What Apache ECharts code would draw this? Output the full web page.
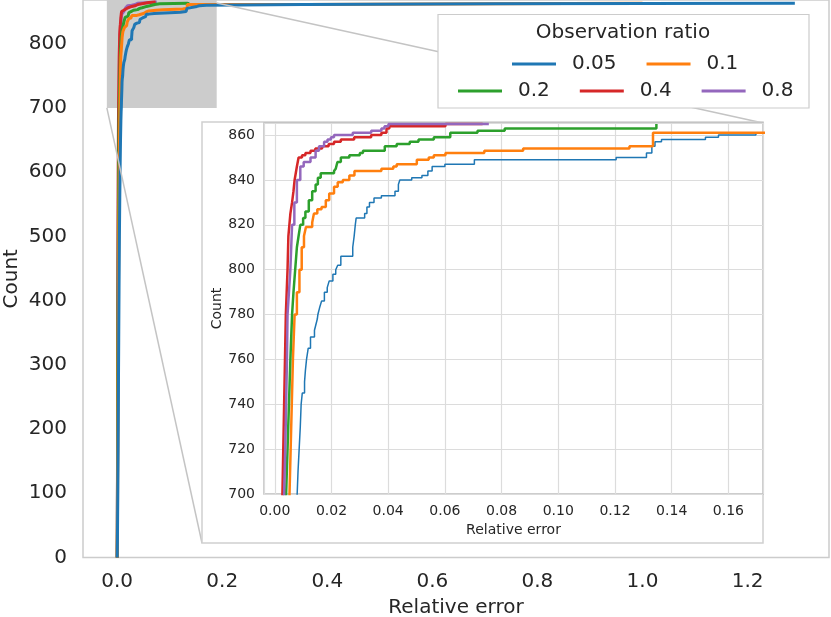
<!DOCTYPE html>
<html>
<head>
<meta charset="utf-8">
<script src="https://cdn.jsdelivr.net/npm/echarts@6/dist/echarts.min.js"></script>
<style>
  html, body { margin: 0; padding: 0; background: #fff; }
  #chart { width: 831px; height: 617px; }
</style>
</head>
<body>
<div id="chart"></div>
<script>
// observation ratios (legend) and their colours
const ratios = ['0.05', '0.1', '0.2', '0.4', '0.8'];
const colors = ['#1f77b4', '#ff7f0e', '#2ca02c', '#d62728', '#9467bd'];

// cumulative count curves: [relative error, count] at each step
const curve005 = [
  [0.0001, 0], [0.0006, 30], [0.0012, 100], [0.0018, 180], [0.0024, 260], [0.0030, 340],
  [0.0036, 420], [0.0043, 500], [0.0050, 560], [0.0057, 610], [0.0064, 650], [0.0071, 680],
  [0.0076, 695], [0.0079, 700], [0.0082, 710], [0.0086, 720], [0.0090, 730], [0.0093, 740],
  [0.0097, 745], [0.0105, 750], [0.0108, 755], [0.0112, 760], [0.0118, 765], [0.0126, 770],
  [0.0140, 773], [0.0146, 776], [0.0150, 778], [0.0152, 780], [0.0158, 783], [0.0165, 786],
  [0.0175, 790], [0.0185, 792], [0.0192, 795], [0.0205, 798], [0.0215, 800], [0.0222, 802],
  [0.0233, 806], [0.0275, 810], [0.0280, 815], [0.0284, 820], [0.0287, 823], [0.0317, 825],
  [0.0325, 828], [0.0334, 830], [0.0350, 832], [0.0376, 833], [0.0424, 835], [0.0436, 838],
  [0.0441, 840], [0.0483, 841], [0.0519, 842], [0.0540, 844], [0.0555, 846], [0.0600, 847],
  [0.0704, 849], [0.1204, 850], [0.1311, 852], [0.1330, 855], [0.1341, 857], [0.1364, 858],
  [0.1519, 859], [0.1565, 860], [0.1697, 861], [0.354, 862], [0.72, 863], [1.29, 864]
];
const curve01 = [
  [0.0001, 0], [0.0005, 40], [0.0010, 130], [0.0015, 230], [0.0020, 330], [0.0026, 430],
  [0.0032, 520], [0.0038, 590], [0.0044, 640], [0.0049, 680], [0.0052, 700], [0.0056, 720],
  [0.0060, 740], [0.0064, 760], [0.0070, 780], [0.0078, 790], [0.0087, 800], [0.0095, 810],
  [0.0103, 815], [0.0110, 819], [0.0132, 821], [0.0138, 825], [0.0150, 827], [0.0165, 828],
  [0.0180, 831], [0.0192, 834], [0.0209, 837], [0.0222, 839], [0.0240, 840], [0.0263, 842],
  [0.0281, 844], [0.0376, 845], [0.0418, 846], [0.0430, 847], [0.0501, 849], [0.0543, 850],
  [0.0561, 851], [0.0602, 852], [0.0739, 853], [0.0876, 854], [0.1251, 855], [0.1334, 861],
  [0.36, 862], [0.72, 863], [1.0, 863]
];
const curve02 = [
  [0.0001, 0], [0.0004, 50], [0.0008, 150], [0.0012, 260], [0.0016, 360], [0.0020, 460],
  [0.0025, 550], [0.0030, 620], [0.0035, 670], [0.0040, 700], [0.0045, 720], [0.0050, 740],
  [0.0055, 760], [0.0061, 780], [0.0066, 790], [0.0072, 800], [0.0078, 810], [0.0084, 815],
  [0.0090, 820], [0.0100, 823], [0.0108, 826], [0.0120, 831], [0.0132, 835], [0.0144, 838],
  [0.0152, 841], [0.0162, 843], [0.0209, 844], [0.0215, 845], [0.0221, 848], [0.0233, 850],
  [0.0263, 851], [0.0300, 852], [0.0311, 853], [0.0388, 855], [0.0430, 856], [0.0476, 857],
  [0.0507, 858], [0.0561, 859], [0.0619, 861], [0.0715, 862], [0.0811, 863], [0.1346, 865]
];
const curve04 = [
  [0.0001, 0], [0.0004, 60], [0.0007, 150], [0.0010, 260], [0.0013, 370], [0.0016, 470],
  [0.0019, 560], [0.0022, 630], [0.0025, 680], [0.0027, 700], [0.0030, 720], [0.0033, 740],
  [0.0036, 760], [0.0039, 780], [0.0042, 790], [0.0045, 800], [0.0048, 815], [0.0055, 825],
  [0.0061, 830], [0.0066, 835], [0.0070, 840], [0.0074, 843], [0.0078, 846], [0.0084, 850],
  [0.0096, 851], [0.0108, 852], [0.0126, 853], [0.0143, 854], [0.0167, 855], [0.0190, 856],
  [0.0209, 857], [0.0233, 858], [0.0280, 859], [0.0340, 860], [0.0376, 861], [0.0394, 863],
  [0.0404, 864], [0.0602, 865], [0.0733, 865]
];
const curve08 = [
  [0.0001, 0], [0.0004, 55], [0.0008, 150], [0.0011, 250], [0.0015, 360], [0.0018, 460],
  [0.0022, 550], [0.0025, 620], [0.0029, 670], [0.0033, 700], [0.0037, 720], [0.0040, 740],
  [0.0043, 760], [0.0045, 780], [0.0050, 790], [0.0055, 800], [0.0058, 810], [0.0061, 820],
  [0.0069, 830], [0.0078, 840], [0.0090, 846], [0.0102, 848], [0.0126, 850], [0.0144, 853],
  [0.0156, 855], [0.0174, 857], [0.0186, 858], [0.0198, 859], [0.0209, 860], [0.0275, 861],
  [0.0340, 862], [0.0376, 863], [0.0387, 864], [0.0401, 865], [0.0755, 865]
];
const curves = [curve005, curve01, curve02, curve04, curve08];

// zoomed region shaded on the main axes
const zoomX = [-0.0196, 0.1895];
const zoomY = [700, 868];

const font = 'DejaVu Sans';
const ink = '#262626';

const chart = echarts.init(document.getElementById('chart'));

let series = [];
// main axes (blue drawn last so it sits on top)
[4, 3, 2, 1, 0].forEach(i => {
  series.push({
    name: ratios[i], type: 'line', xAxisIndex: 0, yAxisIndex: 0,
    data: curves[i], step: 'end', symbol: 'none', showSymbol: false,
    lineStyle: { width: 3, color: colors[i] }, itemStyle: { color: colors[i] },
    z: 2, animation: false
  });
});
series[0].markArea = {
  silent: true,
  itemStyle: { color: '#cccccc', opacity: 1 },
  data: [[{ coord: [zoomX[0], zoomY[0]] }, { coord: [zoomX[1], zoomY[1]] }]]
};
// inset axes
[0, 1, 2, 3, 4].forEach(i => {
  series.push({
    name: ratios[i], type: 'line', xAxisIndex: 1, yAxisIndex: 1,
    data: curves[i], step: 'end', symbol: 'none', showSymbol: false,
    lineStyle: { width: i === 0 ? 1.5 : 2.5, color: colors[i] }, itemStyle: { color: colors[i] },
    z: 7, animation: false
  });
});

const legendCommon = {
  orient: 'horizontal', icon: 'rect', itemWidth: 44, itemHeight: 3, itemGap: 30,
  padding: 0, selectedMode: false, z: 10,
  textStyle: { fontFamily: font, fontSize: 20, color: ink, padding: [0, 0, 0, 11] }
};

const option = {
  backgroundColor: '#fff',
  animation: false,
  grid: [
    { left: 83, right: 2, top: 0, bottom: 59.5, show: true, borderColor: '#cccccc', borderWidth: 1.5,
      z: 0, containLabel: false, outerBoundsMode: 'none' },
    { left: 264, top: 123, width: 499, height: 371, show: true, backgroundColor: '#fff',
      borderColor: '#bdbdbd', borderWidth: 1.5, z: 5, containLabel: false, outerBoundsMode: 'none' }
  ],
  xAxis: [
    { type: 'value', gridIndex: 0, min: -0.065, max: 1.355, splitNumber: 7,
      name: 'Relative error', nameLocation: 'middle', nameGap: 40, nameMoveOverlap: false,
      nameTextStyle: { fontFamily: font, fontSize: 20, color: ink },
      axisLine: { show: false }, axisTick: { show: false }, splitLine: { show: false },
      axisLabel: { fontFamily: font, fontSize: 20, color: ink, margin: 14,
        showMinLabel: false, showMaxLabel: false, formatter: v => v.toFixed(1) } },
    { type: 'value', gridIndex: 1, min: -0.0038, max: 0.1722, splitNumber: 9,
      name: 'Relative error', nameLocation: 'middle', nameGap: 29, nameMoveOverlap: false, z: 6,
      nameTextStyle: { fontFamily: font, fontSize: 14, color: ink },
      axisLine: { show: false }, axisTick: { show: false },
      splitLine: { show: true, lineStyle: { color: '#dcdcdc', width: 1.2 } },
      axisLabel: { fontFamily: font, fontSize: 14, color: ink, margin: 10,
        showMinLabel: false, showMaxLabel: false, formatter: v => v.toFixed(2) } }
  ],
  yAxis: [
    { type: 'value', gridIndex: 0, min: 0, max: 868, interval: 100,
      name: 'Count', nameLocation: 'middle', nameGap: 61, nameMoveOverlap: false,
      nameTextStyle: { fontFamily: font, fontSize: 20, color: ink },
      axisLine: { show: false }, axisTick: { show: false }, splitLine: { show: false },
      axisLabel: { fontFamily: font, fontSize: 20, color: ink, margin: 16, showMaxLabel: false } },
    { type: 'value', gridIndex: 1, min: 700, max: 865.4, interval: 20,
      name: 'Count', nameLocation: 'middle', nameGap: 40, nameMoveOverlap: false, z: 6,
      nameTextStyle: { fontFamily: font, fontSize: 14, color: ink },
      axisLine: { show: false }, axisTick: { show: false },
      splitLine: { show: true, lineStyle: { color: '#dcdcdc', width: 1.2 } },
      axisLabel: { fontFamily: font, fontSize: 14, color: ink, margin: 9, showMaxLabel: false } }
  ],
  legend: [
    Object.assign({}, legendCommon, { data: ['0.05', '0.1'], left: 512, top: 54 }),
    Object.assign({}, legendCommon, { data: ['0.2', '0.4', '0.8'], left: 458, top: 81 })
  ],
  series: series
};
chart.setOption(option);

// shaded region corners in pixels, used for the connector lines
const zBL = chart.convertToPixel({ gridIndex: 0 }, [zoomX[0], zoomY[0]]);
const zTR = chart.convertToPixel({ gridIndex: 0 }, [zoomX[1], zoomY[1]]);

chart.setOption({
  graphic: [
    { type: 'line', z: 3, silent: true,
      shape: { x1: zBL[0], y1: zBL[1], x2: 202, y2: 543 },
      style: { stroke: '#c4c4c4', lineWidth: 1.5 } },
    { type: 'line', z: 3, silent: true,
      shape: { x1: zTR[0], y1: zTR[1] + 3, x2: 763, y2: 123 },
      style: { stroke: '#c4c4c4', lineWidth: 1.5 } },
    { type: 'rect', z: 4, silent: true,
      shape: { x: 202, y: 122, width: 561, height: 421 },
      style: { fill: '#fff', stroke: '#d0d0d0', lineWidth: 1.5 } },
    { type: 'rect', z: 9, silent: true,
      shape: { x: 438, y: 14.5, width: 371, height: 93.5 },
      style: { fill: '#fff', stroke: '#cccccc', lineWidth: 1.2 } },
    { type: 'text', z: 10, silent: true,
      style: { x: 623, y: 33, text: 'Observation ratio', fill: ink,
        font: '20px "DejaVu Sans"', textAlign: 'center', textVerticalAlign: 'middle' } }
  ]
});
</script>
</body>
</html>
